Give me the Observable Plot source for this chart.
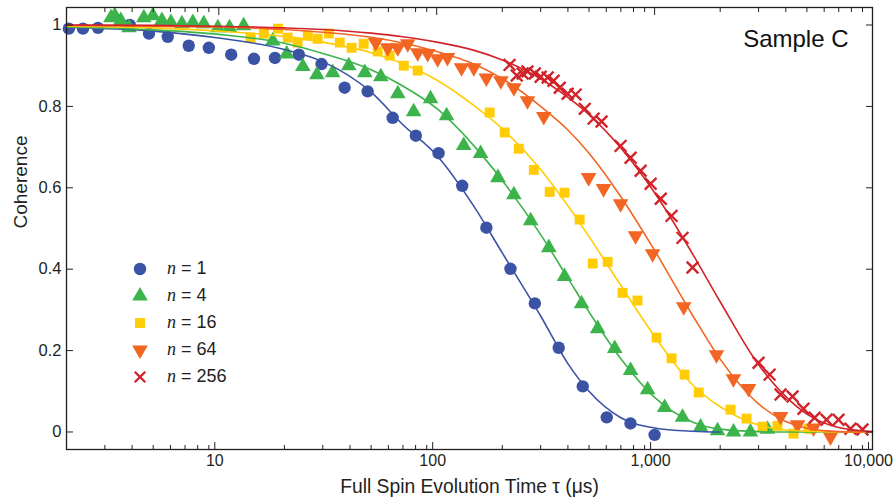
<!DOCTYPE html>
<html><head><meta charset="utf-8">
<script src="https://cdn.jsdelivr.net/npm/d3@7"></script>
<script src="https://cdn.jsdelivr.net/npm/@observablehq/plot@0.6"></script>
<style>
body{margin:0;background:#fff;}
#wrap{position:relative;width:895px;height:500px;font-family:"Liberation Sans",Arial,sans-serif;color:#231f20;}
#legend{position:absolute;left:130px;top:255px;}
.row{display:flex;align-items:center;height:27px;font-size:18px;white-space:pre;}
.row svg{width:20px;height:20px;margin-right:17px;}
.row i{font-family:"Liberation Serif","DejaVu Serif",serif;font-style:italic;}
</style></head><body><div id="wrap"><div id="legend"></div></div><script>
// ---- data ----
const seriesNames = ["n = 1", "n = 4", "n = 16", "n = 64", "n = 256"];
const colors = ["#3a53a4", "#3cb44b", "#ffcc05", "#f26522", "#d2232a"];

const t1 = [2.05, 2.38, 2.79, 3.9, 4.78, 5.83, 7.28, 9.0, 11.4, 14.5, 18.1, 23.3, 29.6, 37.8, 48.2, 62.8, 80.2, 102, 131, 169, 218, 282, 363, 468, 603, 775, 1000];
const c1 = [0.991, 0.991, 0.993, 1.0, 0.979, 0.971, 0.949, 0.944, 0.927, 0.917, 0.919, 0.927, 0.904, 0.846, 0.837, 0.772, 0.728, 0.685, 0.605, 0.502, 0.401, 0.316, 0.207, 0.112, 0.036, 0.021, -0.007];

const t4 = [3.2, 3.33, 3.55, 3.87, 4.53, 4.98, 5.48, 6.03, 6.77, 7.6, 8.53, 9.9, 11.2, 13.0, 17.7, 20.5, 24.3, 28.2, 33.3, 39.5, 46.8, 55.4, 66.3, 78.4, 93.7, 111, 133, 159, 191, 226, 270, 327, 386, 462, 548, 656, 776, 929, 1112, 1343, 1626, 1945, 2303, 2754, 3296];
const c4 = [1.018, 1.023, 1.011, 0.993, 1.018, 1.023, 1.011, 1.006, 1.003, 1.006, 1.003, 0.993, 0.993, 0.998, 0.961, 0.929, 0.898, 0.878, 0.883, 0.9, 0.883, 0.873, 0.831, 0.787, 0.819, 0.777, 0.704, 0.684, 0.625, 0.583, 0.519, 0.453, 0.382, 0.315, 0.254, 0.205, 0.151, 0.104, 0.06, 0.036, 0.012, 0.003, 0.0, 0.0, 0.007];

const t16 = [14.0, 16.1, 18.7, 20.7, 23.0, 25.6, 28.4, 32.0, 35.9, 40.7, 46.2, 53.6, 60.8, 70.6, 81.8, 175, 205, 238, 279, 330, 386, 453, 520, 609, 713, 835, 1021, 1196, 1373, 1594, 2232, 2644, 3128, 3664, 4341, 5085];
const c16 = [0.969, 0.979, 0.991, 0.969, 0.957, 0.974, 0.966, 0.979, 0.957, 0.944, 0.954, 0.935, 0.925, 0.9, 0.888, 0.785, 0.736, 0.696, 0.644, 0.59, 0.588, 0.522, 0.414, 0.418, 0.342, 0.323, 0.232, 0.181, 0.141, 0.097, 0.055, 0.033, 0.013, 0.015, -0.004, 0.008];

const t64 = [52.5, 59.6, 66.3, 73.6, 81.8, 90.9, 101, 112, 130, 148, 169, 197, 226, 261, 310, 498, 583, 698, 818, 979, 1360, 1923, 2300, 2698, 3785, 4528, 5360, 6415];
const c64 = [0.957, 0.944, 0.944, 0.954, 0.932, 0.93, 0.917, 0.92, 0.895, 0.895, 0.87, 0.863, 0.846, 0.814, 0.775, 0.625, 0.598, 0.561, 0.482, 0.438, 0.308, 0.19, 0.131, 0.107, 0.038, 0.018, 0.01, -0.012];

const t256 = [216, 233, 248, 261, 282, 300, 323, 344, 367, 399, 434, 478, 525, 571, 698, 776, 863, 959, 1067, 1196, 1343, 1493, 2999, 3373, 3785, 4295, 4822, 5423, 6151, 6982, 7925, 8995];
const c256 = [0.902, 0.876, 0.881, 0.886, 0.881, 0.873, 0.871, 0.863, 0.846, 0.831, 0.829, 0.794, 0.77, 0.763, 0.703, 0.674, 0.642, 0.61, 0.573, 0.531, 0.477, 0.404, 0.17, 0.141, 0.092, 0.087, 0.057, 0.035, 0.03, 0.03, 0.008, 0.006];

// fitted curves, read at these times
const fitT = [2, 5, 10, 20, 30, 50, 70, 100, 150, 200, 300, 400, 500, 700, 1000, 1500, 2000, 3000, 4000, 5000, 7000, 10000];
const fit1 = [0.994, 0.985, 0.968, 0.94, 0.91, 0.835, 0.755, 0.68, 0.55, 0.44, 0.285, 0.168, 0.1, 0.035, 0.01, 0.002, 0.0, null, null, null, null, null];
const fit4 = [0.995, 0.988, 0.977, 0.955, 0.93, 0.89, 0.85, 0.795, 0.7, 0.618, 0.485, 0.378, 0.295, 0.18, 0.085, 0.024, 0.007, 0.001, 0, 0, 0, 0];
const fit16 = [0.997, 0.993, 0.985, 0.972, 0.958, 0.932, 0.905, 0.865, 0.8, 0.745, 0.645, 0.556, 0.48, 0.36, 0.235, 0.115, 0.062, 0.017, 0.005, 0.002, 0, 0];
const fit64 = [0.999, 0.997, 0.995, 0.989, 0.982, 0.97, 0.956, 0.935, 0.903, 0.868, 0.8, 0.742, 0.685, 0.578, 0.446, 0.285, 0.179, 0.069, 0.026, 0.009, 0.001, 0];
const fit256 = [1.0, 0.999, 0.997, 0.993, 0.989, 0.98, 0.971, 0.958, 0.937, 0.914, 0.868, 0.822, 0.78, 0.698, 0.588, 0.436, 0.32, 0.165, 0.087, 0.044, 0.011, 0.001];

const xMajor = [10, 100, 1000, 10000];
const xMinor = [2, 3, 4, 5, 6, 7, 8, 9, 20, 30, 40, 50, 60, 70, 80, 90, 200, 300, 400, 500, 600, 700, 800, 900, 2000, 3000, 4000, 5000, 6000, 7000, 8000, 9000];
const yTicks = [0, 0.2, 0.4, 0.6, 0.8, 1];

// ---- build ----
const triangleDown = {
  draw(ctx, size) {
    const s3 = Math.sqrt(3);
    const y = Math.sqrt(size / (s3 * 3));
    ctx.moveTo(0, y * 2);
    ctx.lineTo(-s3 * y, -y);
    ctx.lineTo(s3 * y, -y);
    ctx.closePath();
  }
};
const symbols = ["circle", "triangle", "square", triangleDown, "times"];
const radii = [6.2, 5.8, 5.6, 5.8, 5.4];
const pts = [[t1, c1], [t4, c4], [t16, c16], [t64, c64], [t256, c256]];
const fits = [fit1, fit4, fit16, fit64, fit256];

const pointMarks = pts.map(([t, c], i) => {
  const data = t.map((v, j) => ({t: v, c: c[j]}));
  const isStroke = symbols[i] === "times";
  return Plot.dot(data, {
    x: "t", y: "c", symbol: () => symbols[i], r: radii[i],
    fill: isStroke ? "none" : colors[i],
    stroke: isStroke ? colors[i] : "none",
    strokeWidth: isStroke ? 2.4 : 0
  });
});
const lineMarks = fits.map((f, i) => {
  const data = fitT.map((v, j) => ({t: v, c: f[j]})).filter(d => d.c !== null);
  return Plot.line(data, {x: "t", y: "c", stroke: colors[i], strokeWidth: 1.6, curve: "monotone-x"});
});

const ink = "#231f20";
const plot = Plot.plot({
  width: 895, height: 500,
  marginLeft: 66, marginRight: 23, marginTop: 7, marginBottom: 51,
  style: {fontFamily: '"Liberation Sans", Arial, sans-serif', fontSize: "16px", color: ink, background: "white", overflow: "visible"},
  x: {type: "log", domain: [2, 10000]},
  y: {domain: [-0.043, 1.043]},
  symbol: {type: "identity"},
  marks: [
    ...pointMarks,
    ...lineMarks,
    Plot.frame({stroke: ink, strokeWidth: 1.3}),
    Plot.axisX(xMinor, {anchor: "bottom", tickSize: -4, fill: "none", label: null}),
    Plot.axisX(xMinor, {anchor: "top", tickSize: -4, fill: "none", label: null}),
    Plot.axisX(xMajor, {anchor: "top", tickSize: -7, fill: "none", label: null}),
    Plot.axisX(xMajor, {anchor: "bottom", tickSize: -7, tickPadding: 12, tickFormat: d3.format(","), label: null, dx: -4}),
    Plot.axisY(yTicks, {anchor: "left", tickSize: -7, tickPadding: 12, tickFormat: d => String(d), label: null, fontSize: 16.5}),
    Plot.axisY(yTicks, {anchor: "right", tickSize: -7, fill: "none", label: null}),
    Plot.text(["Full Spin Evolution Time τ (μs)"], {frameAnchor: "bottom", dy: 43, lineAnchor: "bottom", fontSize: 19.3, fill: ink}),
    Plot.text(["Coherence"], {frameAnchor: "left", dx: -46, rotate: -90, fontSize: 19, fill: ink}),
    Plot.text(["Sample C"], {frameAnchor: "top-right", dx: -24, dy: 22, lineAnchor: "top", textAnchor: "end", fontSize: 24, fill: "#111"})
  ]
});
document.getElementById("wrap").prepend(plot);

// legend
const leg = document.getElementById("legend");
seriesNames.forEach((name, i) => {
  const row = document.createElement("div");
  row.className = "row";
  const svg = d3.create("svg").attr("viewBox", "-10 -10 20 20");
  const sym = typeof symbols[i] === "string"
    ? {circle: d3.symbolCircle, triangle: d3.symbolTriangle, square: d3.symbolSquare, times: d3.symbolTimes}[symbols[i]]
    : symbols[i];
  const isStroke = symbols[i] === "times";
  svg.append("path")
    .attr("d", d3.symbol(sym, Math.PI * radii[i] * radii[i] * (i === 4 ? 0.8 : 1))())
    .attr("fill", isStroke ? "none" : colors[i])
    .attr("stroke", isStroke ? colors[i] : "none")
    .attr("stroke-width", isStroke ? 2.4 : 0);
  row.appendChild(svg.node());
  const parts = name.split(" ");
  const it = document.createElement("i");
  it.textContent = parts[0];
  row.appendChild(it);
  row.appendChild(document.createTextNode(" " + parts.slice(1).join(" ")));
  leg.appendChild(row);
});
</script></body></html>
